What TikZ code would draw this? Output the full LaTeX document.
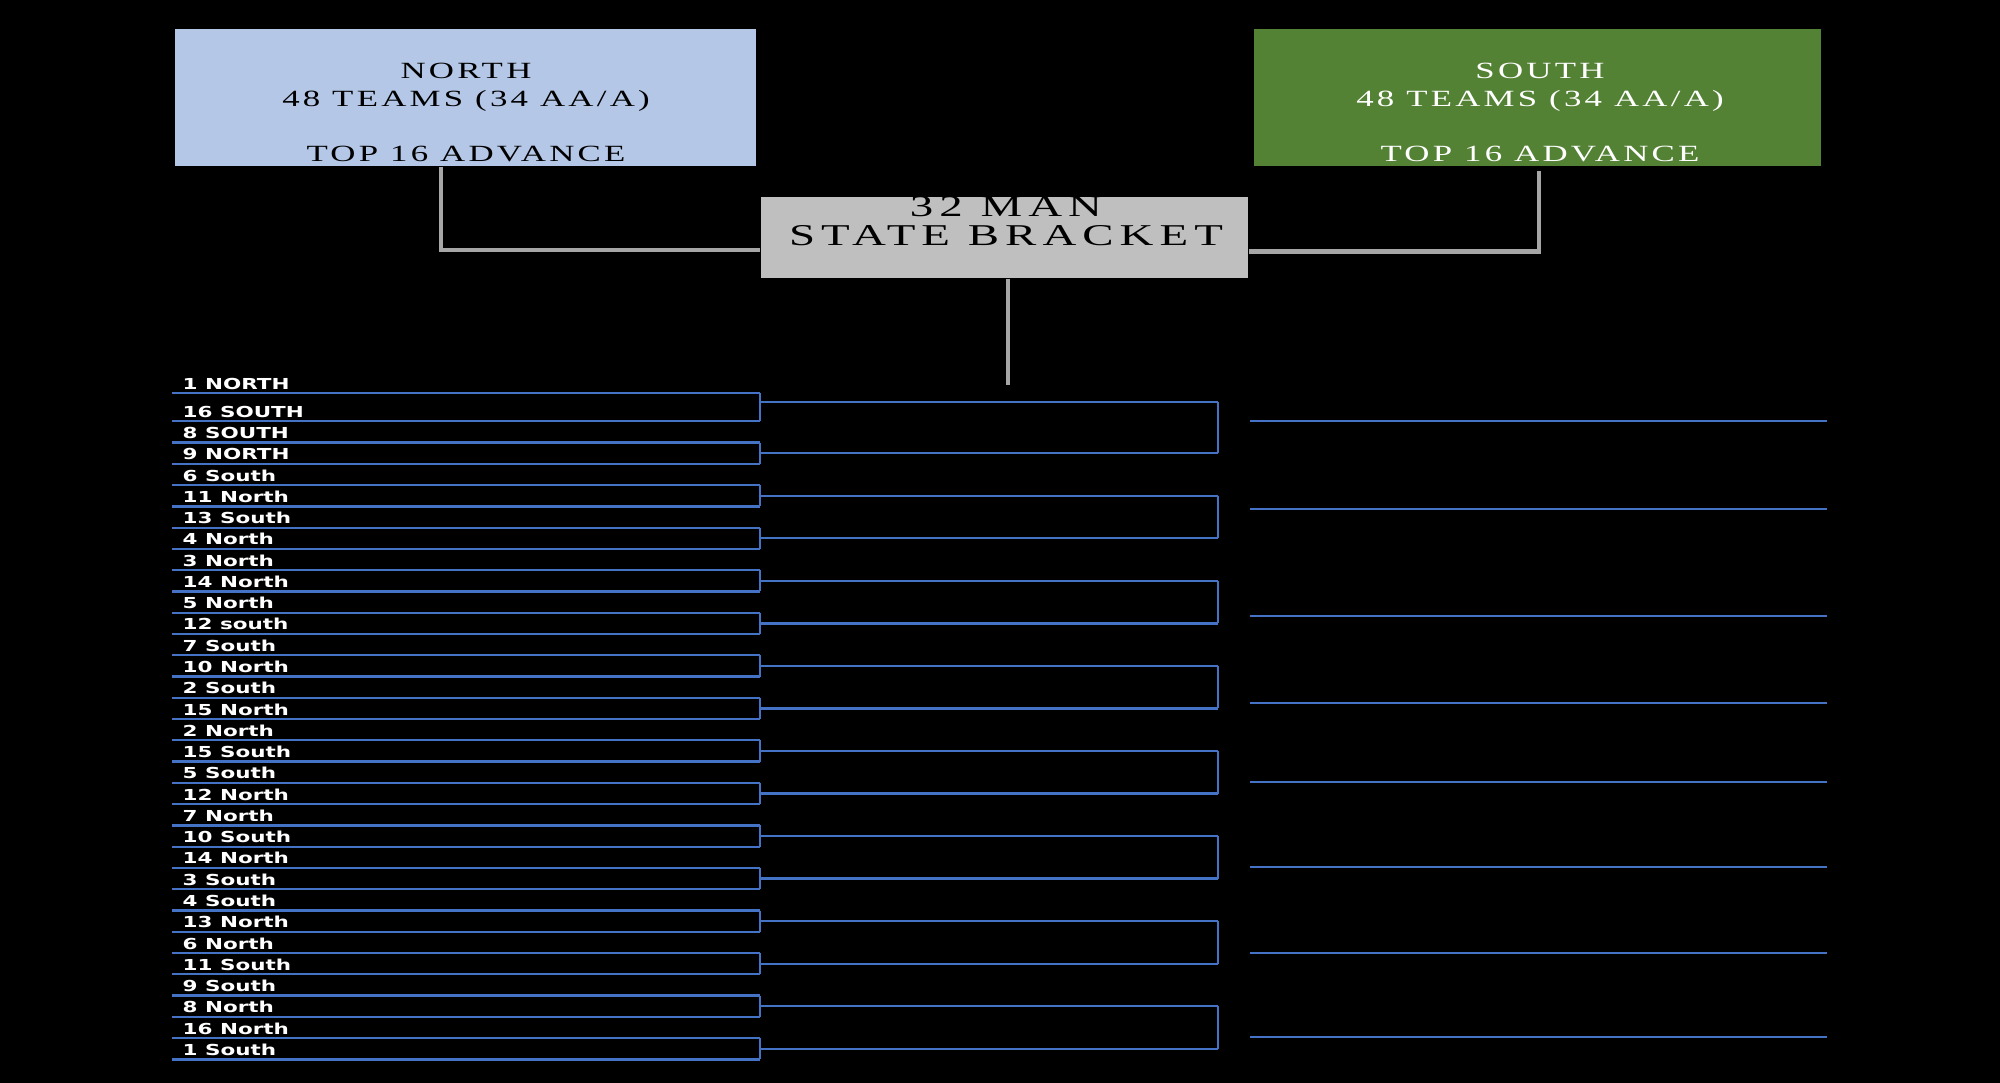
\documentclass[tikz,border=0pt]{standalone}
\usepackage{fontspec}
\usepackage{xcolor}
\newfontfamily\boxfont[FakeStretch=1.5,LetterSpace=14]{Liberation Serif}
\newfontfamily\titlefont[FakeStretch=1.55,LetterSpace=20]{Liberation Serif}
\newfontfamily\teamfont[FakeStretch=1.42]{DejaVu Sans Bold}
\definecolor{north blue}{HTML}{B4C7E7}
\definecolor{south green}{HTML}{548235}
\definecolor{bracket gray}{HTML}{BFBFBF}
\definecolor{link gray}{HTML}{A6A6A6}
\definecolor{line blue}{HTML}{4472C4}
\tikzstyle{region box}=[
    inner sep = 0pt,
    minimum height = 1.37cm
]
\tikzstyle{box text}=[
    inner sep = 0pt,
    align = center,
    font = \boxfont\fontsize{6.6}{7.82}\selectfont
]
\tikzstyle{team}=[
    anchor = base west,
    inner sep = 0pt,
    text = white,
    font = \teamfont\fontsize{4.3}{5}\selectfont
]
\tikzstyle{team line}=[draw = line blue, line width = 0.65pt]
\tikzstyle{link}=[draw = link gray, line width = 1.3pt]
\pgfmathdeclarefunction{rowy}{1}{\pgfmathparse{#1==1 ? 393.3 : 421.3+(#1-2)*21.27}}

\begin{document}
\begin{tikzpicture}[x=0.01cm, y=-0.01cm]
        \useasboundingbox (0,0) rectangle (2000,1083);
        \fill[black] (0,0) rectangle (2000,1083);

        \node[region box, fill=north blue, minimum width=5.81cm] (north) at (465.5,97.5) {};
        \node[region box, fill=south green, minimum width=5.67cm] (south) at (1537.5,97.5) {};
        \node[region box, fill=bracket gray, minimum width=4.87cm, minimum height=0.81cm] (bracket) at (1004.5,237.5) {};

        \node[box text] (north text) at (466,112.3) {NORTH\\48 TEAMS (34 AA/A)\\[7.82pt]TOP 16 ADVANCE};
        \node[box text, text=white] (south text) at (1540,112.3) {SOUTH\\48 TEAMS (34 AA/A)\\[7.82pt]TOP 16 ADVANCE};
        \node[box text, font=\titlefont\fontsize{8.6}{8.25}\selectfont] (bracket text) at (1006,221.5) {32 MAN\\STATE BRACKET};

        \draw[link] ([xshift=-2.45mm]north.south) |- ([yshift=-1.25mm]bracket.west);
        \draw[link] ([xshift=0.15mm,yshift=-0.4mm]south.south) |- ([yshift=-1.4mm]bracket.east);
        \coordinate (final) at (1008,385);
        \draw[link] (bracket.south -| final) -- (final);

        \foreach \team [count=\i] in {1 NORTH, 16 SOUTH, 8 SOUTH, 9 NORTH, 6 South, 11 North, 13 South, 4 North,
            3 North, 14 North, 5 North, 12 south, 7 South, 10 North, 2 South, 15 North,
            2 North, 15 South, 5 South, 12 North, 7 North, 10 South, 14 North, 3 South,
            4 South, 13 North, 6 North, 11 South, 9 South, 8 North, 16 North, 1 South} {
            \pgfmathsetmacro{\ly}{rowy(\i)}
            \coordinate (a\i) at (172,\ly);
            \coordinate (b\i) at (760,\ly);
            \draw[team line] (a\i) -- (b\i);
            \node[team] (t\i) at (182,\ly-4) {\team};
        }

        \foreach \k in {1,...,16} {
            \pgfmathtruncatemacro{\p}{2*\k-1}
            \pgfmathtruncatemacro{\q}{2*\k}
            \pgfmathsetmacro{\my}{\k==1 ? 402 : (rowy(\p)+rowy(\q))/2}
            \draw[team line] (b\p) -- (b\q);
            \coordinate (c\k) at (1218,\my);
            \draw[team line] (b\p |- c\k) -- (c\k);
        }

        \foreach \j in {1,...,8} {
            \pgfmathtruncatemacro{\p}{2*\j-1}
            \pgfmathtruncatemacro{\q}{2*\j}
            \draw[team line] (c\p) -- (c\q);
        }

        \foreach \ry [count=\j] in {421,509,616,703,782,867,953,1037} {
            \coordinate (d\j) at (1250,\ry);
            \coordinate (e\j) at (1827,\ry);
            \draw[team line] (d\j) -- (e\j);
        }
    \end{tikzpicture}
\end{document}
